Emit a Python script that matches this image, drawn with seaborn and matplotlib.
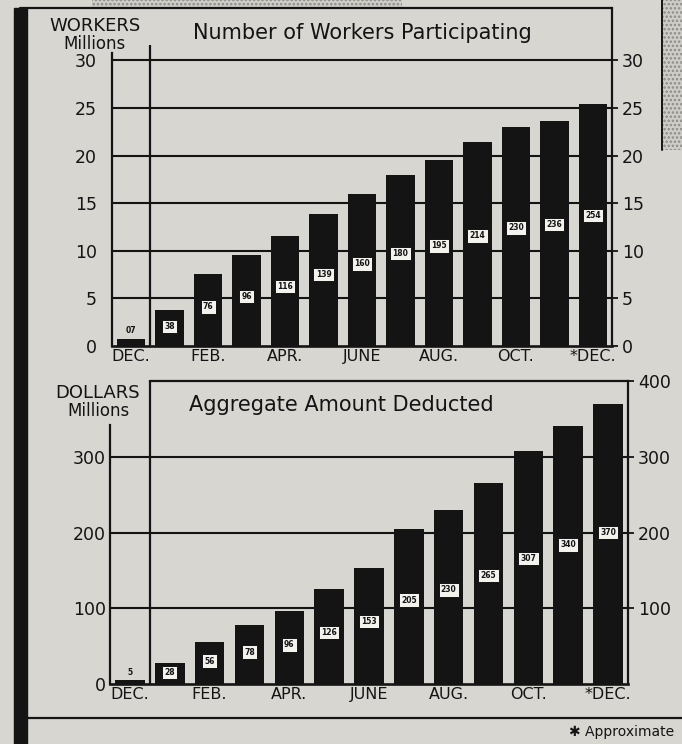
import matplotlib
matplotlib.use("Agg")
import matplotlib.pyplot as plt
from matplotlib.lines import Line2D
from matplotlib.patches import Rectangle
import seaborn as sns
import pandas as pd

# ---- data -------------------------------------------------------------
months = ["DEC.", "JAN.", "FEB.", "MAR.", "APR.", "MAY", "JUNE",
          "JULY", "AUG.", "SEPT.", "OCT.", "NOV.", "*DEC."]
month_labels = ["DEC.", "", "FEB.", "", "APR.", "", "JUNE",
                "", "AUG.", "", "OCT.", "", "*DEC."]
workers_millions = [0.7, 3.8, 7.6, 9.6, 11.6, 13.9, 16.0,
                    18.0, 19.5, 21.4, 23.0, 23.6, 25.4]
deducted_millions = [5, 28, 56, 78, 96, 126, 153,
                     205, 230, 265, 307, 340, 370]
worker_ticks = [0, 5, 10, 15, 20, 25, 30]
dollar_ticks = [0, 100, 200, 300]
dollar_right_ticks = [100, 200, 300, 400]

# ---- style ------------------------------------------------------------
BG = "#d8d6d1"
INK = "#141414"
PAPER = "#f4f2ed"

sns.set_theme(style="white")
plt.rcParams["font.family"] = ["DejaVu Sans"]
plt.rcParams["axes.facecolor"] = BG
plt.rcParams["hatch.linewidth"] = 1.2

W, H = 682, 744
fig = plt.figure(figsize=(W / 100, H / 100), dpi=100, facecolor=BG)


def px_box(x0, y0, x1, y1):
    return [x0 / W, 1 - y1 / H, (x1 - x0) / W, (y1 - y0) / H]


def fx(x):
    return x / W


def fy(y):
    return 1 - y / H


def draw_panel(ax, values, labels, top, left_ticks, right_ticks, grid,
               spine_top, sep_top, title, title_xy, tick_pad):
    df = pd.DataFrame({"month": months, "value": values})
    sns.barplot(data=df, x="month", y="value", ax=ax, color=INK,
                saturation=1, width=0.74, linewidth=0, zorder=3)
    ax.set_xlim(-0.5, len(months) - 0.5)
    ax.set_ylim(0, top)
    ax.set_xlabel("")
    ax.set_ylabel("")
    ax.set_facecolor(BG)

    for g in grid:
        ax.axhline(g, color=INK, lw=1.5, zorder=1)
    # separator after the first (previous-year) December
    ax.plot([0.5, 0.5], [0, sep_top], color=INK, lw=1.6, zorder=2,
            solid_capstyle="butt")

    for side in ["left", "right", "bottom", "top"]:
        ax.spines[side].set_color(INK)
        ax.spines[side].set_linewidth(1.6)
    ax.spines["bottom"].set_linewidth(1.9)
    ax.spines["left"].set_bounds(0, spine_top)

    ax.set_yticks(left_ticks)
    ax.set_yticklabels([str(t) for t in left_ticks])
    ax.tick_params(axis="y", length=0, pad=tick_pad, labelsize=12.5,
                   labelcolor=INK)
    ax.set_xticks(range(len(months)))
    ax.set_xticklabels(month_labels)
    ax.tick_params(axis="x", length=0, pad=2, labelsize=11.5,
                   labelcolor=INK)

    axr = ax.twinx()
    axr.set_ylim(0, top)
    axr.set_yticks(right_ticks)
    axr.set_yticklabels([str(t) for t in right_ticks])
    axr.tick_params(axis="y", direction="out", length=4, width=1.3,
                    color=INK, pad=3, labelsize=12.5, labelcolor=INK)
    for side in axr.spines:
        axr.spines[side].set_visible(False)

    for i, (v, lab) in enumerate(zip(values, labels)):
        if v / top < 0.05:
            ax.text(i, v + top * 0.012, lab, ha="center", va="bottom",
                    fontsize=5.5, fontweight="bold", color=INK, zorder=6)
        else:
            ax.text(i, v * 0.54, lab, ha="center", va="center",
                    fontsize=5.5, fontweight="bold", color=INK, zorder=6,
                    bbox=dict(boxstyle="square,pad=0.3", fc=PAPER,
                              ec=INK, lw=0.7))

    ax.text(title_xy[0], title_xy[1], title, ha="center", va="center",
            fontsize=15, color=INK)
    return axr


# ---- top panel: workers ----------------------------------------------
ax1 = fig.add_axes(px_box(112, 8, 612, 346))
worker_labels = [f"{v:.1f}".replace(".", "") for v in workers_millions]
draw_panel(ax1, workers_millions, worker_labels, 35.5, worker_ticks,
           worker_ticks, [5, 10, 15, 20, 25, 30], 30.8, 31.6,
           "Number of Workers Participating", (6.0, 32.9), 11)
ax1.spines["top"].set_visible(False)

# ---- bottom panel: dollars -------------------------------------------
ax2 = fig.add_axes(px_box(110, 381, 628, 684))
dollar_labels = [str(v) for v in deducted_millions]
draw_panel(ax2, deducted_millions, dollar_labels, 400, dollar_ticks,
           dollar_right_ticks, [100, 200, 300], 342, 400,
           "Aggregate Amount Deducted", (5.3, 368), 3)
ax2.spines["top"].set_bounds(0.5, len(months) - 0.5)

# ---- unit headings ----------------------------------------------------
fig.text(fx(95), fy(26), "WORKERS", ha="center", va="center",
         fontsize=13, color=INK)
fig.text(fx(95), fy(44), "Millions", ha="center", va="center",
         fontsize=12, color=INK)
fig.text(fx(98), fy(393), "DOLLARS", ha="center", va="center",
         fontsize=13, color=INK)
fig.text(fx(98), fy(411), "Millions", ha="center", va="center",
         fontsize=12, color=INK)

# ---- page frame -------------------------------------------------------
fig.add_artist(Line2D([fx(20), fx(612)], [fy(8), fy(8)], color=INK,
                      lw=1.6, transform=fig.transFigure))
fig.add_artist(Line2D([fx(20), fx(682)], [fy(718), fy(718)], color=INK,
                      lw=1.6, transform=fig.transFigure))
fig.add_artist(Rectangle((fx(14), 0), fx(13), fy(8), color=INK,
                         transform=fig.transFigure, zorder=0))
fig.add_artist(Line2D([fx(662), fx(662)], [fy(0), fy(150)], color=INK,
                      lw=1.4, transform=fig.transFigure))
fig.add_artist(Rectangle((fx(663), fy(150)), fx(19), fy(0) - fy(150),
                         fc="#cfcdc8", ec="#8d8b87", lw=0, hatch="....",
                         transform=fig.transFigure, zorder=0))
fig.add_artist(Rectangle((fx(92), fy(7)), fx(310), fy(0) - fy(7),
                         fc="#cfcdc8", ec="#8d8b87", lw=0, hatch="....",
                         transform=fig.transFigure, zorder=0))

fig.text(fx(674), fy(732), "\u2731 Approximate", ha="right", va="center",
         fontsize=10, color=INK)

fig.savefig("out.png", dpi=100, facecolor=BG)
